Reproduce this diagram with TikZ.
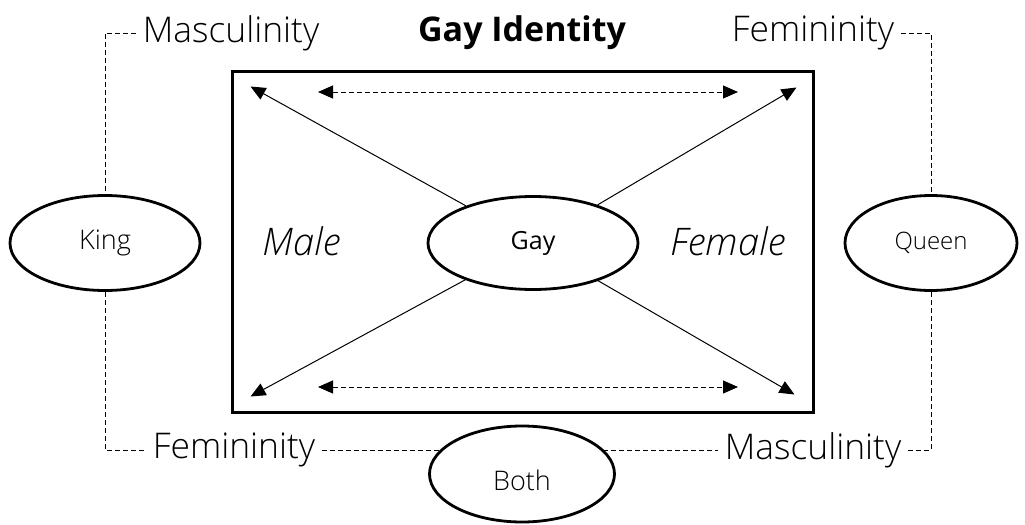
\documentclass[tikz,border=0pt]{standalone}
\usepackage{fontspec}
\setmainfont{Open Sans}[UprightFont=* Light, ItalicFont=* Light Italic, BoldFont=* Bold]
\newfontfamily\regfont{Open Sans}
\usetikzlibrary{shapes.geometric,arrows.meta,positioning}

\begin{document}
\begin{tikzpicture}[x=0.5pt,y=-0.5pt,
    tri/.tip={Triangle[length=7.5pt,width=6.5pt]},
    oval/.style={ellipse,draw,line width=1.4pt,inner sep=0pt},
    lbl/.style={font=\fontsize{17.7}{20}\selectfont},
    small/.style={font=\fontsize{13.5}{16}\selectfont},
    tie/.style={line width=0.5pt,dash pattern=on 2.5pt off 1.5pt},
    arr/.style={line width=0.5pt,-tri},]
  \useasboundingbox (0,0) rectangle (1025,525);
  \node[draw,line width=1.5pt,minimum width=290.5pt,minimum height=170.5pt] (frame) at (522.5,241.5) {};
  \node[oval,minimum width=105pt,minimum height=46.5pt,font=\fontsize{12.5}{14}\regfont] (gay) at (533,243) {Gay};
  \node[oval,small,minimum width=95pt,minimum height=47.5pt] (king) at (105,243) {King};
  \node[oval,font=\fontsize{12}{14}\selectfont,minimum width=86pt,minimum height=47.5pt] (queen) at (931,243) {Queen};
  \node[oval,small,minimum width=92.5pt,minimum height=48pt,text height=19pt,text depth=3pt] (both) at (522,474) {Both};
  \node[lbl,font=\fontsize{19}{22}\selectfont\itshape] (male) at (302,241) {Male};
  \node[lbl,font=\fontsize{19}{22}\selectfont\itshape] (female) at (728,241) {Female};
  \node[lbl,font=\fontsize{17}{20}\selectfont\bfseries] (title) at (522,33) {Gay Identity};
  \node[lbl] (masc) at (231,33) {Masculinity};
  \node[lbl] (fem) at (813,33) {Femininity};
  \node[lbl] (femB) at (234,450) {Femininity};
  \node[lbl] (mascB) at (813,450) {Masculinity};
  % corner points inside the frame
  \coordinate (tl) at ([shift={(20,17)}]frame.north west);
  \coordinate (tr) at ([shift={(-18,18)}]frame.north east);
  \coordinate (bl) at ([shift={(20,-17)}]frame.south west);
  \coordinate (br) at ([shift={(-20,-19)}]frame.south east);
  \coordinate (tml) at (318,92);
  \coordinate (tmr) at (738,92);
  \coordinate (bml) at (318,387);
  \coordinate (bmr) at (738,387);
  % where the bottom ties meet Both
  \coordinate (bothL) at ([shift={(12.5,-24)}]both.west);
  \coordinate (bothR) at ([shift={(-12.5,-24)}]both.east);
  \foreach \c in {tl,tr,bl,br}
    \draw[arr] (gay) -- (\c);
  \draw[tie,tri-tri] (tml) -- (tmr);
  \draw[tie,tri-tri] (bml) -- (bmr);
  % dashed ties
  \draw[tie] (masc.west) -| (king.north);
  \draw[tie] (king.south) |- (femB.west);
  \draw[tie] (fem.east) -| (queen.north);
  \draw[tie] (queen.south) |- (mascB.east);
  \draw[tie] (femB.east) -- (femB.east -| bothL);
  \draw[tie] (bothR |- mascB.west) -- (mascB.west);
\end{tikzpicture}
\end{document}
